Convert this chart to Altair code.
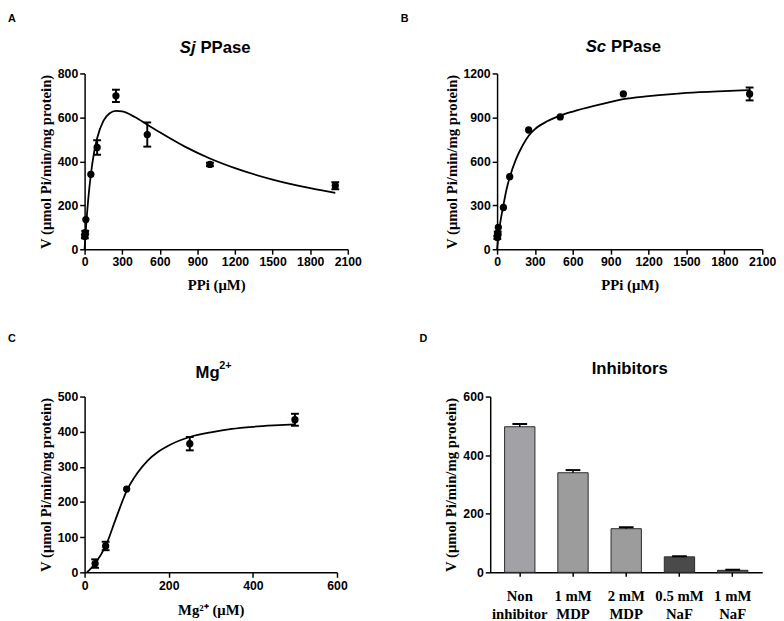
import altair as alt
import pandas as pd

SANS = "Liberation Sans"
SERIF = "Liberation Serif"
YTITLE = "V (μmol Pi/min/mg protein)"

# ---------- Panel A: Sj PPase ----------
a_x = [2, 5, 10, 50, 100, 250, 500, 1000, 2000]
a_y = [58, 76, 135, 341, 463, 698, 522, 386, 289]
a_err = [8, 8, 0, 0, 33, 28, 55, 8, 16]
a_fit_x = [0, 5, 10, 20, 30, 50, 75, 100, 150, 200, 250, 300, 400, 500, 600, 800, 1000, 1200, 1500, 1800, 2000]
a_fit_y = [0, 47, 90, 167, 234, 341, 438, 505, 584, 619, 630, 627, 602, 567, 532, 467, 413, 369, 317, 278, 257]
a_xticks = [0, 300, 600, 900, 1200, 1500, 1800, 2100]
a_yticks = [0, 200, 400, 600, 800]

# ---------- Panel B: Sc PPase ----------
b_x = [2, 5, 10, 50, 100, 250, 500, 1000, 2000]
b_y = [80, 110, 150, 285, 495, 814, 903, 1060, 1060]
b_err = [10, 10, 0, 0, 0, 0, 0, 0, 44]
b_fit_x = [0, 5, 10, 25, 50, 75, 100, 150, 200, 250, 300, 400, 500, 600, 800, 1000, 1200, 1500, 1800, 2000]
b_fit_y = [0, 45, 80, 180, 300, 410, 490, 615, 705, 775, 820, 875, 912, 940, 985, 1025, 1045, 1068, 1080, 1086]
b_xticks = [0, 300, 600, 900, 1200, 1500, 1800, 2100]
b_yticks = [0, 300, 600, 900, 1200]

# ---------- Panel C: Mg2+ ----------
c_x = [25, 50, 100, 250, 500]
c_y = [25, 75, 237, 366, 434]
c_err = [12, 12, 0, 19, 17]
c_fit_x = [5, 10, 25, 50, 75, 100, 125, 150, 175, 200, 250, 300, 350, 400, 450, 500]
c_fit_y = [0, 5, 25, 75, 155, 232, 282, 318, 343, 361, 385, 398, 408, 414, 418, 421]
c_xticks = [0, 200, 400, 600]
c_yticks = [0, 100, 200, 300, 400, 500]

# ---------- Panel D: Inhibitors ----------
d_cat = ["Non inhibitor", "1 mM MDP", "2 mM MDP", "0.5 mM NaF", "1 mM NaF"]
d_val = [497, 340, 149, 53, 7]
d_err = [9, 9, 5, 2, 2]
d_fill = ["#a2a2a6", "#9c9c9c", "#9c9c9c", "#4a4a4a", "#5a5a5a"]
d_yticks = [0, 200, 400, 600]

H = 179


def label(text, x, y, size=11, style="normal", align="left", weight="bold"):
    return alt.Chart(pd.DataFrame({"t": [text]})).mark_text(
        font=SANS, fontSize=size, fontWeight=weight, fontStyle=style,
        align=align, baseline="alphabetic", color="black"
    ).encode(text="t:N", x=alt.value(x), y=alt.value(y))


def xy_panel(px, py, perr, fx, fy, xdom, xticks, ydom, yticks, xtitle, w, texts, tpad):
    pts = pd.DataFrame({"x": px, "y": py, "e": perr})
    pts["lo"] = pts["y"] - pts["e"]
    pts["hi"] = pts["y"] + pts["e"]
    errs = pts[pts["e"] > 0]
    fit = pd.DataFrame({"x": fx, "y": fy})
    xs = alt.Scale(domain=xdom, nice=False, zero=False)
    ys = alt.Scale(domain=ydom, nice=False)
    xax = alt.Axis(values=xticks, title=xtitle, format="d", labelFlush=False, labelOverlap=False,
                   grid=False, titlePadding=tpad)
    yax = alt.Axis(values=yticks, title=YTITLE, format="d", labelOverlap=False, grid=False)
    X = alt.X("x:Q", scale=xs, axis=xax)

    def Y(f):
        return alt.Y(f, scale=ys, axis=yax)

    line = alt.Chart(fit).mark_line(color="black", strokeWidth=1.8, interpolate="monotone").encode(
        x=X, y=Y("y:Q"))
    rule = alt.Chart(errs).mark_rule(color="black", strokeWidth=2).encode(
        x=X, y=Y("lo:Q"), y2="hi:Q")
    cap_lo = alt.Chart(errs).mark_tick(color="black", size=8, thickness=2, orient="horizontal", opacity=1).encode(
        x=X, y=Y("lo:Q"))
    cap_hi = alt.Chart(errs).mark_tick(color="black", size=8, thickness=2, orient="horizontal", opacity=1).encode(
        x=X, y=Y("hi:Q"))
    dots = alt.Chart(pts).mark_circle(color="black", size=55, opacity=1).encode(x=X, y=Y("y:Q"))
    return alt.layer(line, rule, cap_lo, cap_hi, dots, *texts).properties(width=w, height=H)


panel_a = xy_panel(a_x, a_y, a_err, a_fit_x, a_fit_y, [0, 2100], a_xticks, [0, 800], a_yticks,
                   "PPi (μM)", 268,
                   [label("A", -78, -52), label("Sj", 113, -21, 17, "italic", "right"),
                    label("PPase", 118, -21, 17)], 10)
panel_b = xy_panel(b_x, b_y, b_err, b_fit_x, b_fit_y, [0, 2100], b_xticks, [0, 1200], b_yticks,
                   "PPi (μM)", 270,
                   [label("B", -98, -52), label("Sc", 111, -22, 17, "italic", "right"),
                    label("PPase", 116, -22, 17)], 10)
panel_c = xy_panel(c_x, c_y, c_err, c_fit_x, c_fit_y, [0, 600], c_xticks, [0, 500], c_yticks,
                   "Mg²⁺ (μM)", 257,
                   [label("C", -78, -56), label("Mg", 113, -19, 17), label("2+", 137, -28, 11)], 11)

dd = pd.DataFrame({"cat": d_cat, "v": d_val, "e": d_err})
dd["hi"] = dd["v"] + dd["e"]
dx = alt.X("cat:N", sort=d_cat, title=None,
           scale=alt.Scale(paddingInner=0.43, paddingOuter=0.27),
           axis=alt.Axis(labelAngle=0, tickSize=4, labelPadding=13, labelFont=SERIF, labelFontSize=15,
                         labelLineHeight=18, labelBaseline="top", grid=False,
                         labelExpr="[slice(datum.label, 0, lastindexof(datum.label, ' ')), slice(datum.label, lastindexof(datum.label, ' ') + 1)]"))
dys = alt.Scale(domain=[0, 600], nice=False)
dyax = alt.Axis(values=d_yticks, title=YTITLE, format="d", grid=False, labelOverlap=False)
bars = alt.Chart(dd).mark_bar(stroke="#2a2a2a", strokeWidth=1).encode(
    x=dx, y=alt.Y("v:Q", scale=dys, axis=dyax),
    color=alt.Color("cat:N", scale=alt.Scale(domain=d_cat, range=d_fill), legend=None))
d_rule = alt.Chart(dd).mark_rule(color="black", strokeWidth=1.5).encode(
    x=dx, y=alt.Y("v:Q", scale=dys, axis=dyax), y2="hi:Q")
d_cap = alt.Chart(dd).mark_tick(color="black", size=15, thickness=2, orient="horizontal", opacity=1).encode(
    x=dx, y=alt.Y("hi:Q", scale=dys, axis=dyax))
panel_d = alt.layer(bars, d_rule, d_cap, label("D", -72, -56),
                    label("Inhibitors", 142, -23, 17, align="center")).properties(width=277, height=H)

row1 = alt.hconcat(panel_a, panel_b, spacing=152, bounds="flush")
row2 = alt.hconcat(panel_c, panel_d, spacing=156, bounds="flush")

chart = alt.vconcat(row1, row2, spacing=40, bounds="full").properties(
    padding=0, background="white"
).configure_view(stroke=None).configure_axis(
    labelFont=SANS, labelFontWeight="bold", labelFontSize=12.5, labelColor="black",
    titleFont=SERIF, titleFontWeight="bold", titleFontSize=15, titleColor="black",
    domainColor="black", domainWidth=1.5, tickColor="black", tickWidth=1.5, tickSize=5,
    grid=False, labelPadding=2, titlePadding=4,
)

chart.save("out.html", embed_options={"renderer": "svg", "actions": False})
